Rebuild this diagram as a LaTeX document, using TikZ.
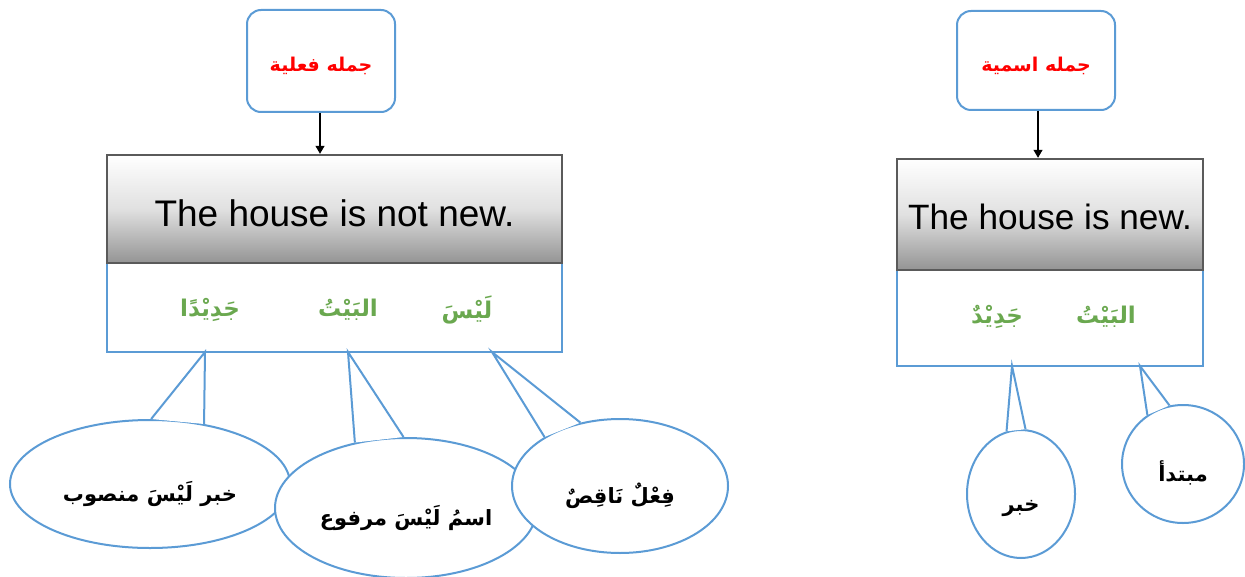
\documentclass[tikz,border=0pt]{standalone}
\usepackage{fontspec}
\setmainfont{Liberation Sans}
\newfontfamily\arabicfont[Script=Arabic]{DejaVu Sans}
\TeXXeTstate=1
\usetikzlibrary{shapes.geometric,arrows.meta}
\definecolor{boxblue}{HTML}{5B9BD5}
\definecolor{wordgreen}{HTML}{6AA84F}
\definecolor{framegray}{HTML}{5A5A5A}
\newcommand{\artxt}[1]{{\arabicfont\bfseries\beginR #1\endR}}
\tikzset{
  titlebox/.style={draw=boxblue, line width=1pt, rounded corners=7pt, fill=white,
    text=red, font=\fontsize{9.5}{12}\selectfont, inner sep=0pt,
    text height=11pt, text depth=0pt},
  sentbox/.style={draw=framegray, line width=1.2pt, top color=white, bottom color=black!42,
    middle color=black!12, font=\fontsize{18.5}{22}\selectfont, inner sep=0pt,
    text height=18pt, text depth=0pt},
  wordbox/.style={draw=boxblue, line width=1pt, fill=white, inner sep=0pt},
  word/.style={text=wordgreen, font=\fontsize{11.5}{13}\selectfont, inner sep=0pt},
  bubble/.style={ellipse, draw=boxblue, line width=1pt, fill=white, inner sep=0pt,
    font=\fontsize{10.5}{13}\selectfont, text height=17pt, text depth=0pt},
  tail/.style={draw=boxblue, line width=1pt, line join=miter},
  link/.style={draw=black, line width=0.6pt, -{Triangle[width=4.5pt,length=4pt]}}
}
\begin{document}
\begin{tikzpicture}[x=0.5pt, y=-0.5pt]
\useasboundingbox (0,0) rectangle (1245,577);

% ---------- verbal sentence ----------
\node[titlebox, minimum width=74pt, minimum height=51pt] (tL) at (321,61) {\artxt{جمله فعلية}};
\node[wordbox, minimum width=227.5pt, minimum height=44.5pt] (wbL) at (334.5,307.5) {};
\node[sentbox, minimum width=227.5pt, minimum height=54pt] (gbL) at (334.5,209) {The house is not new.};
\draw[link] (tL.south -| 320,0) -- (gbL.north -| 320,0);
\node[word] (wL1) at (210,310) {\artxt{جَدِيْدًا}};
\node[word] (wL2) at (348,310) {\artxt{البَيْتُ}};
\node[word] (wL3) at (467,310) {\artxt{لَيْسَ}};

\coordinate (pL1) at (205,352);
\coordinate (pL2) at (348,352);
\coordinate (pL3) at (492,352);

\node[bubble, minimum width=140pt, minimum height=64pt] (cL1) at (150,484) {\artxt{خبر لَيْسَ منصوب}};
\fill[white] (cL1.89) -- (pL1) -- (cL1.48) -- cycle;
\draw[tail] (cL1.89) -- (pL1) -- (cL1.48);

\node[bubble, minimum width=131pt, minimum height=70pt] (cL2) at (406,508) {\artxt{اسمُ لَيْسَ مرفوع}};
\fill[white] (cL2.128) -- (pL2) -- (cL2.92) -- cycle;
\draw[tail] (cL2.128) -- (pL2) -- (cL2.92);

\node[bubble, minimum width=108pt, minimum height=67pt] (cL3) at (620,486) {\artxt{فِعْلٌ نَاقِصٌ}};
\fill[white] (cL3.147) -- (pL3) -- (cL3.122) -- cycle;
\draw[tail] (cL3.147) -- (pL3) -- (cL3.122);

% ---------- nominal sentence ----------
\node[titlebox, minimum width=79pt, minimum height=49.5pt] (tR) at (1036,60.5) {\artxt{جمله اسمية}};
\node[wordbox, minimum width=153pt, minimum height=48pt] (wbR) at (1050,318) {};
\node[sentbox, minimum width=153pt, minimum height=55.5pt, font=\fontsize{17.6}{21}\selectfont,
  text height=15pt] (gbR) at (1050,214.5) {The house is new.};
\draw[link] (tR.south -| 1038,0) -- (gbR.north -| 1038,0);
\node[word] (wR1) at (997,317) {\artxt{جَدِيْدٌ}};
\node[word] (wR2) at (1106,317) {\artxt{البَيْتُ}};

\coordinate (pR1) at (1012,366);
\coordinate (pR2) at (1140,366);

\node[bubble, minimum width=54pt, minimum height=64pt] (cR1) at (1021,494) {\artxt{خبر}};
\fill[white] (cR1.103) -- (pR1) -- (cR1.86) -- cycle;
\draw[tail] (cR1.103) -- (pR1) -- (cR1.86);

\node[bubble, minimum width=61pt, minimum height=59pt] (cR2) at (1183,464) {\artxt{مبتدأ}};
\fill[white] (cR2.126) -- (pR2) -- (cR2.103) -- cycle;
\draw[tail] (cR2.126) -- (pR2) -- (cR2.103);
\end{tikzpicture}
\end{document}
